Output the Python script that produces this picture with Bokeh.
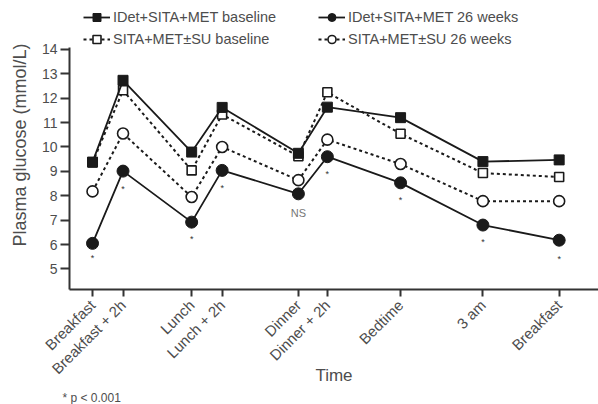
import math
from bokeh.plotting import figure
from bokeh.models import (FixedTicker, Legend, LegendItem, Title, Range1d)
from bokeh.core.properties import value
from bokeh.embed import file_html
from bokeh.resources import INLINE

# time positions (axis units) and their labels
x_pos = [0, 2, 6.5, 8.5, 13.5, 15.4, 20.2, 25.6, 30.6]
x_labels = ["Breakfast", "Breakfast + 2h", "Lunch", "Lunch + 2h", "Dinner",
            "Dinner + 2h", "Bedtime", "3 am", "Breakfast"]

idet_base = [9.38, 12.73, 9.79, 11.62, 9.74, 11.63, 11.2, 9.4, 9.47]
sita_base = [9.36, 12.32, 9.04, 11.33, 9.62, 12.24, 10.54, 8.93, 8.77]
idet_26 = [6.05, 9.01, 6.92, 9.04, 8.08, 9.6, 8.53, 6.8, 6.18]
sita_26 = [8.18, 10.55, 7.95, 10.0, 8.64, 10.3, 9.3, 7.78, 7.78]

y_ticks = [5, 6, 7, 8, 9, 10, 11, 12, 13, 14]

# significance annotations
sig_x = [0, 2, 6.5, 8.5, 15.4, 20.2, 25.6, 30.6]
sig_y = [5.46, 8.29, 6.21, 8.32, 8.9, 7.84, 6.1, 5.42]
ns_x = [13.5]
ns_y = [7.3]

FONT = "Liberation Sans"
DARK = "#1a1a1a"
GREY = "#4d4d4d"

Y0, Y_AXIS_TOP, Y1 = 4.16, 14.08, 16.0

p = figure(width=598, height=404, output_backend="svg", toolbar_location=None,
           x_range=Range1d(-1.51, 33.18), y_range=Range1d(Y0, Y1),
           min_border_left=69, min_border_right=0, min_border_top=0,
           min_border_bottom=115)
p.outline_line_color = None
p.xgrid.visible = False
p.ygrid.visible = False

r3l = p.line(x_pos, sita_base, line_color=DARK, line_width=2, line_dash="3 3")
r3m = p.scatter(x_pos, sita_base, marker="square", size=9, fill_color="white", line_color=DARK, line_width=1.6)
r4l = p.line(x_pos, sita_26, line_color=DARK, line_width=2, line_dash="3 3")
r4m = p.scatter(x_pos, sita_26, marker="circle", size=11, fill_color="white", line_color=DARK, line_width=1.6)
r1l = p.line(x_pos, idet_base, line_color=DARK, line_width=1.8)
r1m = p.scatter(x_pos, idet_base, marker="square", size=10, fill_color=DARK, line_color=DARK)
r2l = p.line(x_pos, idet_26, line_color=DARK, line_width=1.8)
r2m = p.scatter(x_pos, idet_26, marker="circle", size=12, fill_color=DARK, line_color=DARK)

p.text(sig_x, sig_y, text=["*"] * len(sig_x), text_font=value(FONT), text_font_size="9px",
       text_color="#333333", text_align="center", text_baseline="middle")
p.text(ns_x, ns_y, text=["NS"], text_font=value(FONT), text_font_size="11px",
       text_color="#777777", text_align="center", text_baseline="middle")

for ax in (p.xaxis[0], p.yaxis[0]):
    ax.axis_line_color = "#333333"
    ax.axis_line_width = 2
    ax.major_tick_line_color = "#333333"
    ax.major_tick_line_width = 2
    ax.major_tick_in = 0
    ax.minor_tick_line_color = None
    ax.major_label_text_font = FONT
    ax.major_label_text_color = GREY
    ax.axis_label_text_font = FONT
    ax.axis_label_text_color = GREY
    ax.axis_label_text_font_style = "normal"

p.xaxis.ticker = FixedTicker(ticks=x_pos)
p.xaxis.major_label_overrides = {x: l for x, l in zip(x_pos, x_labels)}
p.xaxis.major_label_orientation = math.pi / 4
p.xaxis.major_tick_out = 7
p.xaxis.major_label_text_font_size = "15px"
p.xaxis.major_label_standoff = 6
p.xaxis.axis_label = "Time"
p.xaxis.axis_label_text_font_size = "17px"
p.xaxis.axis_label_standoff = -20

p.yaxis.ticker = FixedTicker(ticks=y_ticks)
p.yaxis.bounds = (Y0, Y_AXIS_TOP)
p.yaxis.major_tick_out = 9
p.yaxis.major_label_text_font_size = "14px"
p.yaxis.major_label_standoff = 3
p.yaxis.axis_label = "Plasma glucose (mmol/L)"
p.yaxis.axis_label_text_font_size = "18px"
p.yaxis.axis_label_standoff = 9

t_note = Title(text="* p < 0.001", align="left", offset=-7, text_font=FONT, text_font_size="12px",
               text_font_style="normal", text_color=GREY, standoff=0)
p.add_layout(t_note, "below")


def make_legend(items, vy):
    lg = Legend(items=items, orientation="horizontal", location=(14, vy))
    lg.border_line_color = None
    lg.background_fill_alpha = 0
    lg.label_text_font = FONT
    lg.label_text_font_size = "14.5px"
    lg.label_text_color = GREY
    lg.glyph_width = 27
    lg.glyph_height = 20
    lg.label_standoff = 3
    lg.label_width = 203
    lg.spacing = 2
    lg.padding = 0
    lg.margin = 0
    return lg


leg_top = make_legend([
    LegendItem(label="IDet+SITA+MET baseline", renderers=[r1l, r1m]),
    LegendItem(label="IDet+SITA+MET 26 weeks", renderers=[r2l, r2m]),
], 262)
leg_bottom = make_legend([
    LegendItem(label="SITA+MET\u00b1SU baseline", renderers=[r3l, r3m]),
    LegendItem(label="SITA+MET\u00b1SU 26 weeks", renderers=[r4l, r4m]),
], 240)
p.add_layout(leg_top, "center")
p.add_layout(leg_bottom, "center")

open("out.html", "w").write(file_html(p, INLINE))
